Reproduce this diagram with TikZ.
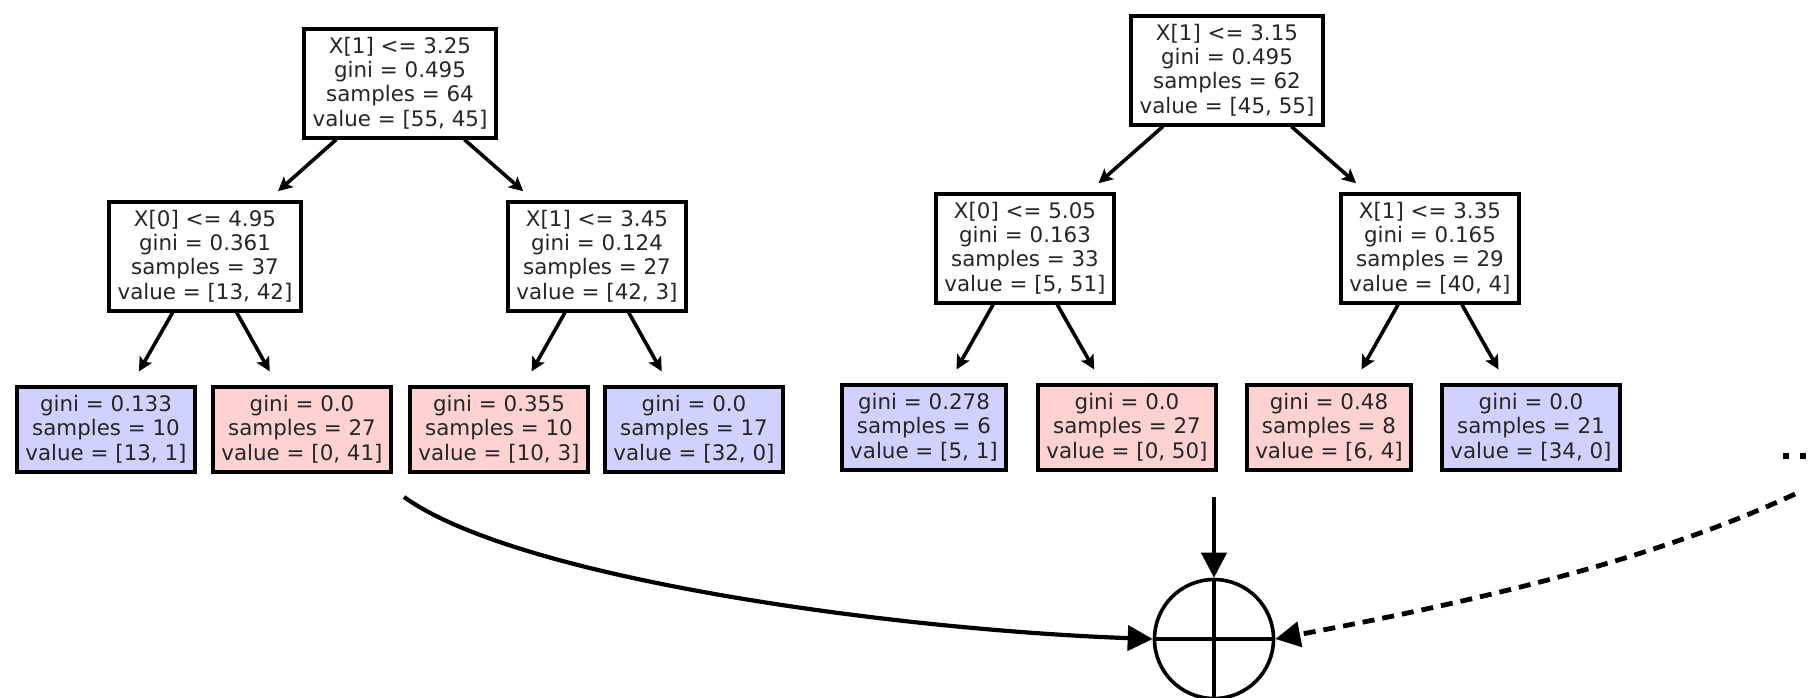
\documentclass[tikz,border=0pt]{standalone}
\usepackage{fontspec}
\setmainfont{DejaVu Sans}
\usetikzlibrary{arrows.meta}
\definecolor{leafblue}{RGB}{209,209,255}
\definecolor{leafpink}{RGB}{255,210,210}
\begin{document}
\begin{tikzpicture}[x=0.5pt,y=-0.5pt,
  tnode/.style={draw, line width=2pt, rectangle, align=center, inner xsep=4.2pt, inner ysep=0pt,
    font=\fontsize{10.7pt}{12.2pt}\selectfont, text=black!85},
  innode/.style={tnode, fill=white, minimum height=54.5pt},
  leafb/.style={tnode, fill=leafblue, minimum height=42.5pt},
  leafp/.style={tnode, fill=leafpink, minimum height=42.5pt},
  edgeA/.style={line width=1.8pt, -{Stealth[length=7pt,width=7pt,inset=1.5pt]}, shorten >=6.3pt},
  edgeB/.style={edgeA, shorten >=7.5pt},
  bigarrow/.style={line width=2.1pt, -{Triangle[length=12.5pt,width=12.5pt]}},
  sumnode/.style={circle, draw, line width=1.8pt, minimum size=59.5pt, inner sep=0pt}
]
\useasboundingbox (0,0) rectangle (1810,697);

% ---- tree 1 ----
\node[innode] (r1) at (400,83) {X[1] <= 3.25\\gini = 0.495\\samples = 64\\value = [55, 45]};
\node[innode] (a1) at (205,256) {X[0] <= 4.95\\gini = 0.361\\samples = 37\\value = [13, 42]};
\node[innode] (b1) at (597,256) {X[1] <= 3.45\\gini = 0.124\\samples = 27\\value = [42, 3]};
\node[leafb] (l11) at (106,429) {gini = 0.133\\samples = 10\\value = [13, 1]};
\node[leafp] (l12) at (302,429) {gini = 0.0\\samples = 27\\value = [0, 41]};
\node[leafp] (l13) at (499,429) {gini = 0.355\\samples = 10\\value = [10, 3]};
\node[leafb] (l14) at (694,429) {gini = 0.0\\samples = 17\\value = [32, 0]};
\draw[edgeA] (r1) -- (a1);
\draw[edgeA] (r1) -- (b1);
\draw[edgeB] (a1) -- (l11);
\draw[edgeB] (a1) -- (l12);
\draw[edgeB] (b1) -- (l13);
\draw[edgeB] (b1) -- (l14);

% ---- tree 2 ----
\node[innode] (r2) at (1227,70) {X[1] <= 3.15\\gini = 0.495\\samples = 62\\value = [45, 55]};
\node[innode] (a2) at (1025,248) {X[0] <= 5.05\\gini = 0.163\\samples = 33\\value = [5, 51]};
\node[innode] (b2) at (1430,248) {X[1] <= 3.35\\gini = 0.165\\samples = 29\\value = [40, 4]};
\node[leafb] (l21) at (924,427) {gini = 0.278\\samples = 6\\value = [5, 1]};
\node[leafp] (l22) at (1127,427) {gini = 0.0\\samples = 27\\value = [0, 50]};
\node[leafp] (l23) at (1329,427) {gini = 0.48\\samples = 8\\value = [6, 4]};
\node[leafb] (l24) at (1531,427) {gini = 0.0\\samples = 21\\value = [34, 0]};
\draw[edgeA] (r2) -- (a2);
\draw[edgeA] (r2) -- (b2);
\draw[edgeB] (a2) -- (l21);
\draw[edgeB] (a2) -- (l22);
\draw[edgeB] (b2) -- (l23);
\draw[edgeB] (b2) -- (l24);

% ---- aggregation ----
\node[sumnode] (sum) at (1214,639) {};
\draw[line width=1.8pt] (sum.north) -- (sum.south);
\draw[line width=1.8pt] (sum.west) -- (sum.east);

\coordinate (s1) at (404,497);
\coordinate (s2) at (1214,497);
\coordinate (s3) at (1795,494);
\draw[bigarrow] (s1) .. controls (520,580) and (900,630) .. (sum.west);
\draw[bigarrow] (s2) -- (sum.north);
\draw[bigarrow, line width=2.4pt, dash pattern=on 6pt off 4pt] (s3) .. controls (1641,566) and (1445,607) .. (sum.east);

% trailing dots
\fill (1783,453) rectangle (1789,459);
\fill (1800,453) rectangle (1806,459);
\end{tikzpicture}
\end{document}
